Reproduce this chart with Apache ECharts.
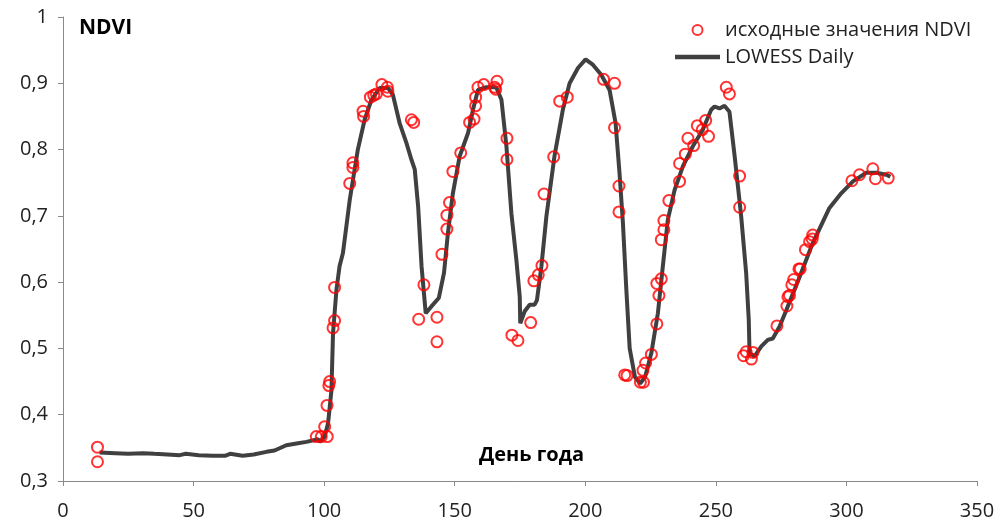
<!DOCTYPE html>
<html>
<head>
<meta charset="utf-8">
<script src="https://cdn.jsdelivr.net/npm/echarts@6/dist/echarts.min.js"></script>
<style>
  html, body { margin: 0; padding: 0; background: #fff; }
  #chart { width: 999px; height: 522px; }
</style>
</head>
<body>
<div id="chart"></div>
<script>
// исходные значения NDVI (день года, значение)
var rawDays = [13.2, 13.2, 97.0, 98.9, 101.2, 100.2, 101.1, 102.1, 101.8, 103.4, 104.0, 104.0,
  109.8, 111.0, 111.0, 114.9, 115.1, 117.7, 119.0, 120.0, 122.1, 124.2, 124.4, 133.4, 134.3,
  138.2, 136.2, 143.2, 143.2, 145.1, 147.0, 147.0, 148.0, 149.3, 152.3, 155.7, 157.4, 158.0,
  158.0, 158.9, 161.1, 165.3, 166.2, 165.7, 170.0, 170.0, 171.9, 174.2, 179.1, 180.3, 182.0,
  183.4, 184.2, 187.9, 190.2, 193.1, 207.0, 211.2, 211.2, 212.9, 212.9, 215.1, 216.0, 221.1,
  222.3, 222.1, 223.1, 225.3, 227.4, 228.2, 227.4, 229.1, 229.1, 230.1, 230.1, 232.0, 236.1,
  236.1, 238.3, 239.3, 241.5, 242.9, 244.8, 246.1, 247.2, 254.0, 255.2, 259.1, 259.1, 260.6,
  261.6, 263.6, 264.2, 273.4, 277.2, 277.6, 278.2, 279.1, 279.8, 281.8, 282.3, 284.3, 285.9,
  286.9, 287.1, 302.1, 305.0, 310.1, 311.1, 316.0];
var rawValues = [0.351, 0.329, 0.367, 0.367, 0.367, 0.382, 0.414, 0.450, 0.444, 0.531, 0.542, 0.592,
  0.749, 0.780, 0.773, 0.858, 0.850, 0.879, 0.882, 0.884, 0.898, 0.894, 0.888, 0.845, 0.841,
  0.596, 0.544, 0.547, 0.510, 0.642, 0.680, 0.701, 0.720, 0.767, 0.795, 0.841, 0.846, 0.866,
  0.879, 0.894, 0.898, 0.894, 0.903, 0.891, 0.817, 0.785, 0.520, 0.512, 0.539, 0.602, 0.611,
  0.625, 0.733, 0.789, 0.873, 0.879, 0.906, 0.900, 0.833, 0.745, 0.706, 0.460, 0.459, 0.449,
  0.449, 0.467, 0.478, 0.491, 0.537, 0.580, 0.598, 0.605, 0.664, 0.679, 0.693, 0.723, 0.752,
  0.779, 0.793, 0.817, 0.806, 0.836, 0.830, 0.844, 0.820, 0.894, 0.884, 0.760, 0.713, 0.489,
  0.495, 0.484, 0.494, 0.534, 0.564, 0.578, 0.580, 0.596, 0.604, 0.620, 0.620, 0.649, 0.661,
  0.665, 0.671, 0.753, 0.762, 0.771, 0.756, 0.757];

// LOWESS Daily
var lowessDays = [14.0, 20, 25, 30.6, 35, 40, 44.7, 47, 52, 57.4, 62, 64, 68.8, 73, 77.9, 81,
  85.5, 90, 93.2, 97.6, 98.3, 100.2, 101.5, 102.8, 103.4, 104.7, 105.9, 107.2, 109.8, 112.9,
  115.5, 118.1, 121.3, 124.4, 126.3, 128.9, 131.5, 133.4, 134.7, 136.0, 137.3, 138.9, 141.0,
  143.9, 145.9, 147.4, 149.3, 151.9, 155.1, 157.0, 158.9, 162.1, 165.9, 167.9, 169.8, 171.7,
  173.6, 174.9, 175.1, 176.8, 178.7, 180.6, 181.5, 183.2, 185.1, 188.2, 191.4, 194.0, 197.2,
  200.1, 202.9, 206.1, 209.3, 211.6, 213.1, 214.4, 215.7, 217.0, 219.0, 221.0, 222.9, 225.3,
  227.8, 229.7, 231.6, 234.2, 237.4, 241.2, 245.0, 248.2, 249.5, 251.4, 253.3, 255.2, 257.2,
  259.7, 261.6, 262.6, 262.9, 264.8, 267.4, 269.9, 271.8, 274.4, 277.0, 282.1, 287.1, 293.5,
  298.0, 302.5, 307.6, 311.4, 315.3, 316.8];
var lowessValues = [0.343, 0.342, 0.341, 0.342, 0.341, 0.340, 0.339, 0.341, 0.339, 0.338, 0.338,
  0.341, 0.338, 0.340, 0.344, 0.346, 0.354, 0.357, 0.359, 0.363, 0.359, 0.367, 0.387, 0.437,
  0.523, 0.588, 0.624, 0.644, 0.724, 0.800, 0.845, 0.875, 0.893, 0.893, 0.883, 0.840, 0.810,
  0.785, 0.770, 0.714, 0.624, 0.553, 0.563, 0.576, 0.614, 0.674, 0.734, 0.790, 0.825, 0.860,
  0.890, 0.894, 0.894, 0.875, 0.805, 0.704, 0.634, 0.578, 0.538, 0.556, 0.566, 0.566, 0.573,
  0.624, 0.699, 0.790, 0.860, 0.900, 0.923, 0.936, 0.928, 0.913, 0.890, 0.840, 0.765, 0.690,
  0.590, 0.500, 0.457, 0.447, 0.457, 0.493, 0.553, 0.624, 0.694, 0.739, 0.775, 0.805, 0.830,
  0.860, 0.865, 0.862, 0.866, 0.857, 0.790, 0.699, 0.614, 0.543, 0.493, 0.488, 0.503, 0.513,
  0.515, 0.533, 0.558, 0.608, 0.659, 0.712, 0.734, 0.752, 0.765, 0.765, 0.762, 0.759];

var xTicks = [0, 350, 50];   // min, max, interval
var yTicks = [0.3, 1, 0.1];

var rawData = rawDays.map(function (d, i) { return [d, rawValues[i]]; });
var lowessData = lowessDays.map(function (d, i) { return [d, lowessValues[i]]; });

var font = "'Open Sans', sans-serif";
var chart = echarts.init(document.getElementById("chart"));
var option = {
  animation: false,
  backgroundColor: "#fff",
  grid: { left: 63, right: 22, top: 17, bottom: 41 },
  title: [
    {
      text: "NDVI", left: 79, top: 18, padding: 0,
      textStyle: { fontFamily: font, fontSize: 21, fontWeight: "bold", color: "#000" }
    },
    {
      text: "День года", left: 479, top: 445, padding: 0,
      textStyle: { fontFamily: font, fontSize: 20, fontWeight: "bold", color: "#000" }
    }
  ],
  legend: {
    orient: "vertical",
    left: 675, top: 20, padding: 0,
    itemWidth: 45, itemHeight: 10, itemGap: 7,
    textStyle: { fontFamily: font, fontSize: 20, color: "#222" },
    data: [
      { name: "исходные значения NDVI" },
      { name: "LOWESS Daily", icon: "path://M0,0H45V4.5H0Z" }
    ]
  },
  xAxis: {
    type: "value",
    min: xTicks[0], max: xTicks[1], interval: xTicks[2],
    axisLine: { lineStyle: { color: "#8a8a8a", width: 1 } },
    axisTick: { show: true, length: 5, lineStyle: { color: "#8a8a8a" } },
    axisLabel: { fontFamily: font, fontSize: 20, color: "#222", margin: 20 },
    splitLine: { show: false }
  },
  yAxis: {
    type: "value",
    min: yTicks[0], max: yTicks[1], interval: yTicks[2],
    axisLine: { show: true, lineStyle: { color: "#8a8a8a", width: 1 } },
    axisTick: { show: true, length: 5, lineStyle: { color: "#8a8a8a" } },
    axisLabel: {
      fontFamily: font, fontSize: 20, color: "#222", margin: 15,
      formatter: function (v) {
        return Math.abs(v - 1) < 1e-9 ? "1" : v.toFixed(1).replace(".", ",");
      }
    },
    splitLine: { show: false }
  },
  series: [
    {
      name: "LOWESS Daily",
      type: "line",
      data: lowessData,
      showSymbol: false,
      symbol: "none",
      lineStyle: { color: "#404040", width: 4 },
      itemStyle: { color: "#404040" },
      z: 2
    },
    {
      name: "исходные значения NDVI",
      type: "scatter",
      data: rawData,
      symbol: "circle",
      symbolSize: 11,
      itemStyle: { color: "rgba(255,255,255,0)", borderColor: "#ff0000", borderWidth: 2 },
      z: 3
    }
  ]
};
chart.setOption(option);
</script>
</body>
</html>
